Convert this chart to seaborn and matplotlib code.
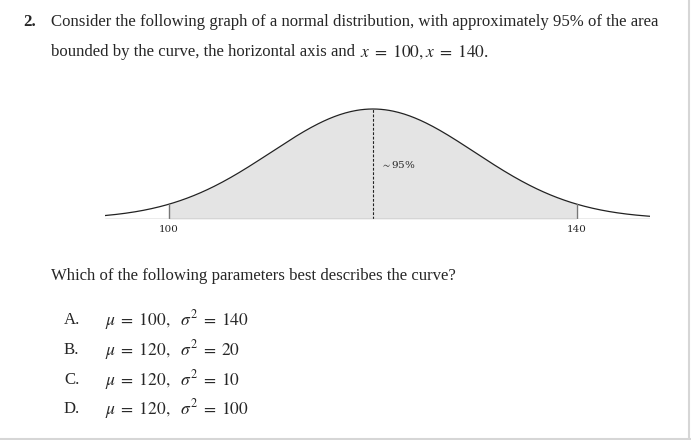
import matplotlib
matplotlib.use("Agg")
import matplotlib.pyplot as plt
from matplotlib.lines import Line2D
import numpy as np
import pandas as pd
import seaborn as sns

# distribution shown in the graph
mu = 120
variance = 100
bounds = [100, 140]
x_range = [93.7, 147.2]
area_label = r"$\sim$95%"

question_num = "2."
question_lines = [
    "Consider the following graph of a normal distribution, with approximately 95% of the area",
    "bounded by the curve, the horizontal axis and",
]
question_math = r"$x\;=\;100, x\;=\;140$."
sub_question = "Which of the following parameters best describes the curve?"
option_letters = ["A.", "B.", "C.", "D."]
option_texts = [
    r"$\mu\;=\;100,\ \ \sigma^2\;=\;140$",
    r"$\mu\;=\;120,\ \ \sigma^2\;=\;20$",
    r"$\mu\;=\;120,\ \ \sigma^2\;=\;10$",
    r"$\mu\;=\;120,\ \ \sigma^2\;=\;100$",
]

sns.set_style("white")
plt.rcParams['font.family'] = ['Liberation Serif', 'DejaVu Serif']
plt.rcParams['mathtext.fontset'] = 'stix'

sigma = np.sqrt(variance)
xs = np.linspace(x_range[0], x_range[1], 400)
df = pd.DataFrame({"x": xs,
                   "y": np.exp(-0.5 * ((xs - mu) / sigma) ** 2) / (sigma * np.sqrt(2 * np.pi))})
peak = df["y"].max()

W, H = 691, 440
fig = plt.figure(figsize=(W / 100, H / 100), dpi=100)

ax = fig.add_axes([105 / W, 1 - 219 / H, 545 / W, 119 / H])
shade = df[(df.x >= bounds[0]) & (df.x <= bounds[1])]
ax.fill_between(shade.x, 0, shade.y, color="#e4e4e4", lw=0)
sns.lineplot(data=df, x="x", y="y", ax=ax, color="#222222", lw=0.9)
for b in bounds:
    hb = np.exp(-0.5 * ((b - mu) / sigma) ** 2) / (sigma * np.sqrt(2 * np.pi))
    ax.plot([b, b], [0, hb], color="#777777", lw=1.0)
ax.plot([mu, mu], [0, peak], color="#222222", lw=0.8, ls=(0, (2.5, 1.5)))
ax.axhline(0, color="#999999", lw=1.0)
ax.text(mu + 0.8, peak * 0.5, area_label, fontsize=7.5, ha="left", va="center",
        fontfamily="DejaVu Serif")
ax.set_xlim(x_range)
ax.set_ylim(0, peak * 119 / 110)
ax.set_xticks(bounds)
ax.set_xticklabels([str(b) for b in bounds], fontsize=7.5, fontfamily="DejaVu Serif")
ax.tick_params(axis="x", length=0, pad=4)
ax.set_yticks([])
ax.set_xlabel("")
ax.set_ylabel("")
sns.despine(ax=ax, left=True, bottom=True)

def fy(py):
    return 1 - py / H

fig.text(23 / W, fy(22), question_num, fontsize=12.1, fontweight="bold", va="center")
fig.text(51 / W, fy(22), question_lines[0], fontsize=12.1, va="center")
fig.text(51 / W, fy(52), question_lines[1], fontsize=12.1, va="center")
fig.text(360 / W, fy(52), question_math, fontsize=12.6, va="center")
fig.text(51 / W, fy(276), sub_question, fontsize=12.1, va="center")
for i, (lt, ot) in enumerate(zip(option_letters, option_texts)):
    y = [320, 350, 380, 409][i]
    fig.text(64 / W, fy(y), lt, fontsize=12.1, va="center")
    fig.text(105 / W, fy(y), ot, fontsize=12.6, va="center")

# page edge
fig.add_artist(Line2D([689 / W, 689 / W], [0, 1], color="#d6d6d6", lw=1.5))
fig.add_artist(Line2D([0, 1], [1.5 / H, 1.5 / H], color="#d6d6d6", lw=1.5))

fig.savefig("out.png", dpi=100)
